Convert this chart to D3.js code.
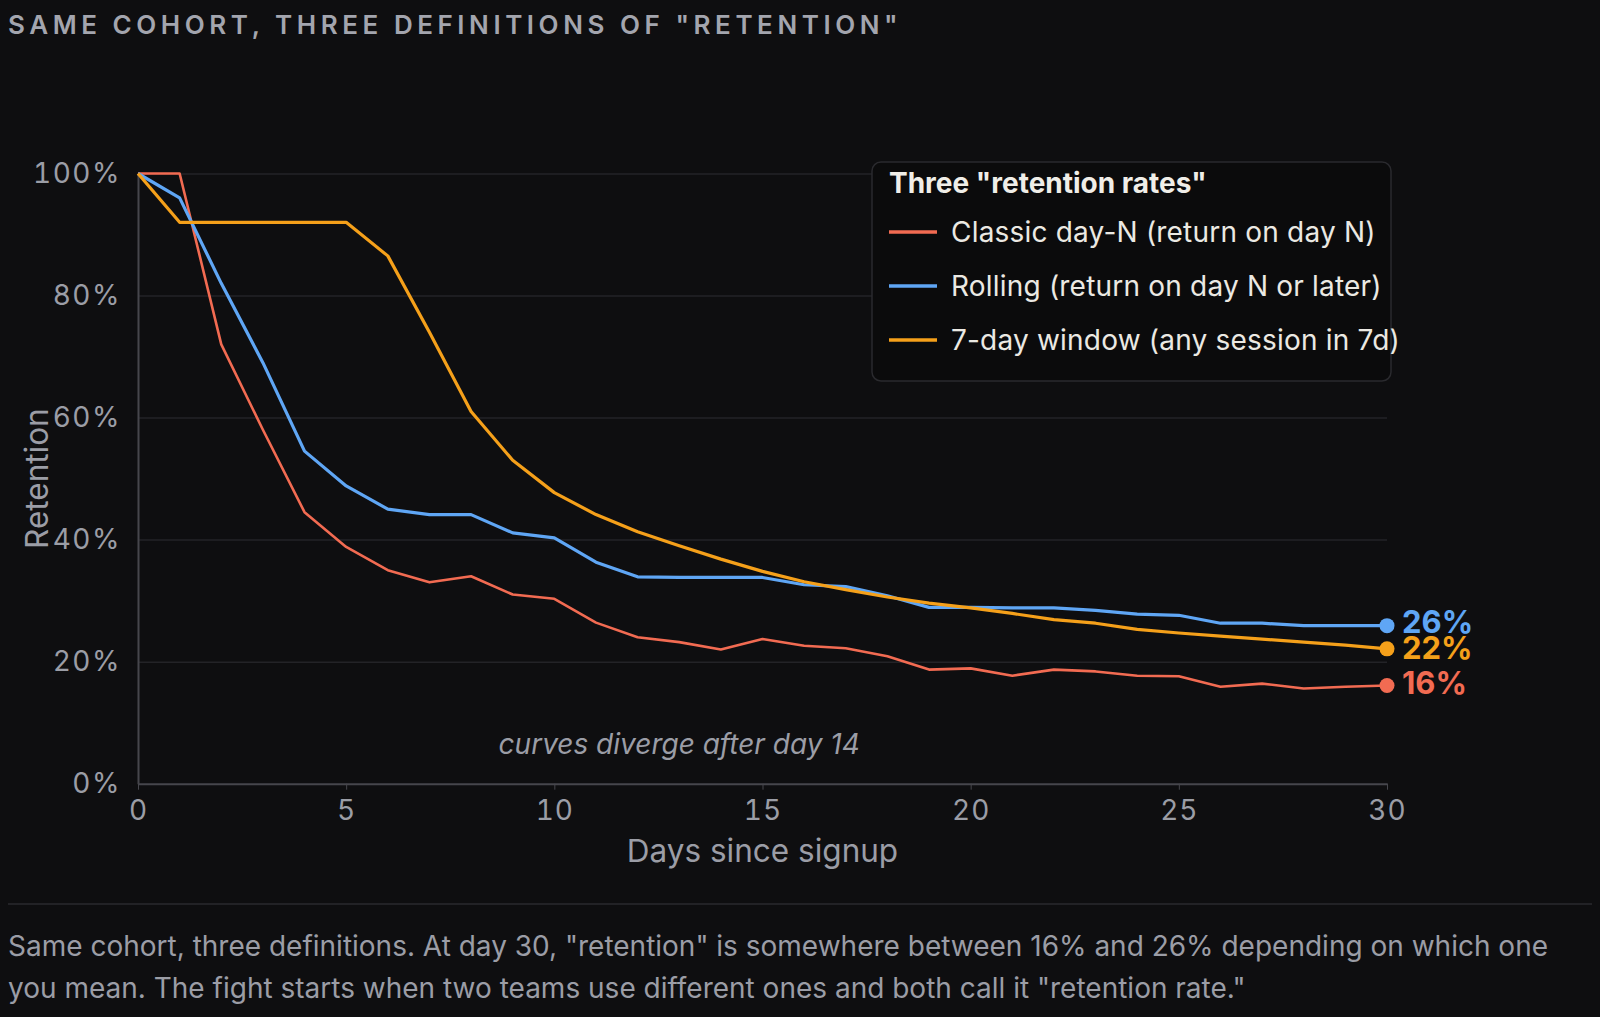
<!DOCTYPE html>
<html>
<head>
<meta charset="utf-8">
<script src="https://cdn.jsdelivr.net/npm/d3@7"></script>
<style>
  html, body { margin: 0; padding: 0; background: #0e0e10; }
  svg { display: block; font-family: Inter, "Noto Sans", sans-serif; }
  .num { font-variant-numeric: tabular-nums; }
</style>
</head>
<body>
<div id="chart"></div>
<script>
const days = d3.range(0, 31)
const classic = [100, 100, 72, 58, 44.5, 38.8, 35, 33, 34, 31, 30.3, 26.4, 24, 23.2, 22, 23.7, 22.6, 22.2, 20.9, 18.7, 18.9, 17.7, 18.7, 18.4, 17.7, 17.6, 15.9, 16.4, 15.6, 15.9, 16.1]
const rolling = [100, 96, 82, 69, 54.5, 48.8, 45, 44.1, 44.1, 41.1, 40.3, 36.3, 33.9, 33.8, 33.8, 33.8, 32.6, 32.3, 30.8, 28.9, 28.9, 28.8, 28.8, 28.4, 27.8, 27.6, 26.3, 26.3, 25.9, 25.9, 25.9]
const windowed = [100, 92, 92, 92, 92, 92, 86.5, 74, 61, 53, 47.7, 44.1, 41.3, 39, 36.8, 34.8, 33.1, 31.8, 30.6, 29.6, 28.8, 27.9, 26.9, 26.3, 25.3, 24.7, 24.2, 23.7, 23.2, 22.7, 22.1]
const seriesNames = ['Classic day-N (return on day N)', 'Rolling (return on day N or later)', '7-day window (any session in 7d)']
const seriesColors = ['#f26b52', '#5fa6f5', '#f5a01a']
const xTicks = [0, 5, 10, 15, 20, 25, 30]
const yTicks = [0, 20, 40, 60, 80, 100]

const width = 1600, height = 1017
const margin = { top: 173.5, right: 213, bottom: 233.3, left: 138 }
const innerW = width - margin.left - margin.right
const innerH = height - margin.top - margin.bottom
const muted = '#9b9da6'

const svg = d3.select('#chart').append('svg')
  .attr('xmlns', 'http://www.w3.org/2000/svg')
  .attr('width', width).attr('height', height)
  .style('background', '#0e0e10')

// title
svg.append('text').attr('x', 8).attr('y', 34)
  .attr('fill', '#a3a5ae').attr('font-size', 26).attr('font-weight', 600)
  .attr('letter-spacing', 4.55)
  .text('SAME COHORT, THREE DEFINITIONS OF "RETENTION"')

const g = svg.append('g').attr('transform', `translate(${margin.left},${margin.top})`)

const x = d3.scaleLinear().domain([0, 30]).range([0, innerW])
const y = d3.scaleLinear().domain([0, 100]).range([innerH, 0])

// grid
g.append('g').call(d3.axisLeft(y).tickValues(yTicks.slice(1)).tickSize(-innerW).tickFormat(''))
  .call((a) => a.select('.domain').remove())
  .selectAll('line').attr('stroke', '#232327').attr('stroke-width', 1.5)

// y axis
const yAxis = g.append('g').call(d3.axisLeft(y).tickValues(yTicks).tickSize(0).tickPadding(17).tickFormat((d) => d + '%'))
yAxis.select('.domain').attr('stroke', '#46464c').attr('stroke-width', 2)
yAxis.selectAll('text').attr('class', 'num').attr('fill', muted).attr('font-size', 28)
  .attr('font-family', 'Inter, sans-serif').attr('letter-spacing', 1.5)

// x axis
const xAxis = g.append('g').attr('transform', `translate(0,${innerH})`)
  .call(d3.axisBottom(x).tickValues(xTicks).tickSize(6).tickSizeOuter(0).tickPadding(10))
xAxis.select('.domain').attr('stroke', '#46464c').attr('stroke-width', 2)
xAxis.selectAll('line').attr('stroke', '#46464c')
xAxis.selectAll('text').attr('class', 'num').attr('fill', muted).attr('font-size', 28)
  .attr('font-family', 'Inter, sans-serif').attr('letter-spacing', 1)

// axis titles
g.append('text').attr('x', innerW / 2).attr('y', innerH + 78)
  .attr('text-anchor', 'middle').attr('fill', muted).attr('font-size', 31.5)
  .text('Days since signup')
g.append('text').attr('transform', `translate(${48 - margin.left},${innerH / 2}) rotate(-90)`)
  .attr('text-anchor', 'middle').attr('fill', muted).attr('font-size', 31.5)
  .text('Retention')

// annotation
g.append('text').attr('x', x(13)).attr('y', y(4.8))
  .attr('text-anchor', 'middle').attr('fill', muted).attr('font-size', 28).attr('font-style', 'italic')
  .text('curves diverge after day 14')

// lines
const allSeries = [classic, rolling, windowed]
const line = d3.line().x((d, i) => x(days[i])).y((d) => y(d))
const widths = [2.6, 3.2, 3.2]
allSeries.forEach((s, k) => {
  g.append('path').datum(s).attr('fill', 'none')
    .attr('stroke', seriesColors[k]).attr('stroke-width', widths[k])
    .attr('stroke-linejoin', 'round').attr('d', line)
})

// end dots + labels (small nudges keep the two close labels apart)
const labelNudge = [-2, -3.5, -0.5]
allSeries.forEach((s, k) => {
  const last = s[s.length - 1]
  g.append('circle').attr('cx', x(30)).attr('cy', y(last)).attr('r', 7.5).attr('fill', seriesColors[k])
  g.append('text').attr('x', x(30) + 15).attr('y', y(last) + labelNudge[k]).attr('dy', '0.35em')
    .attr('fill', seriesColors[k]).attr('font-size', 31).attr('font-weight', 700)
    .text(Math.round(last) + '%')
})

// legend
const lg = svg.append('g').attr('transform', 'translate(872,162)')
lg.append('rect').attr('width', 519).attr('height', 219).attr('rx', 9)
  .attr('fill', '#0b0b0c').attr('stroke', '#2a2a2e').attr('stroke-width', 1.5)
lg.append('text').attr('x', 17).attr('y', 31).attr('fill', '#f0eee8')
  .attr('font-size', 28).attr('font-weight', 700).text('Three "retention rates"')
seriesNames.forEach((name, k) => {
  const yy = 70 + k * 54
  lg.append('line').attr('x1', 17).attr('x2', 65).attr('y1', yy).attr('y2', yy)
    .attr('stroke', seriesColors[k]).attr('stroke-width', 3.5)
  lg.append('text').attr('x', 79).attr('y', yy).attr('dy', '0.35em')
    .attr('fill', '#ebe9e3').attr('font-size', 28).attr('letter-spacing', 0.2).text(name)
})

// separator + caption
svg.append('line').attr('x1', 8).attr('x2', 1592).attr('y1', 904).attr('y2', 904)
  .attr('stroke', '#2a2a2e').attr('stroke-width', 1.5)
const caption = [
  'Same cohort, three definitions. At day 30, "retention" is somewhere between 16% and 26% depending on which one',
  'you mean. The fight starts when two teams use different ones and both call it "retention rate."'
]
caption.forEach((t, i) => {
  svg.append('text').attr('x', 8).attr('y', 956 + i * 42)
    .attr('fill', muted).attr('font-size', 28).text(t)
})
</script>
</body>
</html>
